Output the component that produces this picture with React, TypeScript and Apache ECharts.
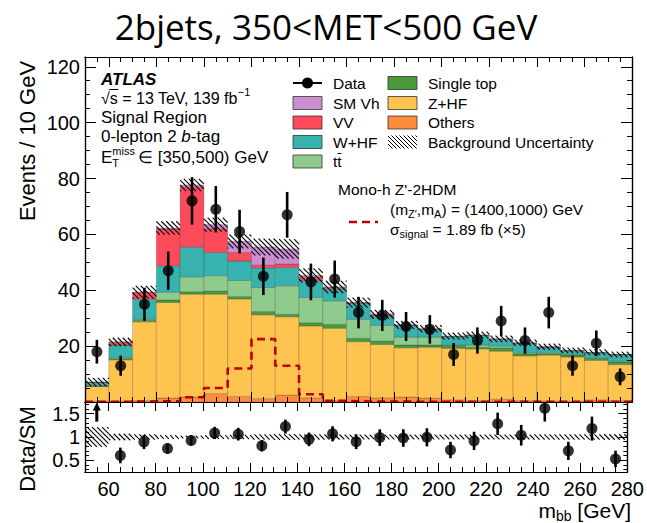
import React, { useEffect, useRef } from "react";
import * as echarts from "echarts";

const FONT = '"Liberation Sans", Arial, Helvetica, sans-serif';
const TITLE_FONT = '"Open Sans", "Noto Sans", sans-serif';

// m_bb bin edges [GeV]
const binEdges = [50, 60, 70, 80, 90, 100, 110, 120, 130, 140, 150, 160, 170, 180, 190, 200, 210, 220, 230, 240, 250, 260, 270, 280];

// Background yields per bin (events / 10 GeV), bottom of stack first
const othersYield = [0.3, 0.3, 0.5, 1.4, 1.8, 3.0, 2.0, 1.2, 2.5, 1.5, 0.6, 2.0, 1.5, 1.8, 1.4, 0.8, 0.5, 1.0, 0.5, 0.4, 0.3, 0.8, 0.5];
const zhfYield = [5.3, 14.8, 28.2, 34.2, 36.8, 35.6, 34.9, 30.0, 28.0, 25.7, 25.8, 19.6, 19.1, 17.6, 18.2, 18.4, 18.5, 17.2, 16.0, 16.4, 15.8, 14.1, 12.9];
const singleTopYield = [0.1, 0.4, 0.6, 0.9, 0.9, 1.1, 0.9, 1.2, 0.9, 1.2, 1.4, 1.2, 1.2, 1.0, 0.8, 1.0, 0.6, 1.2, 0.7, 0.5, 0.7, 0.7, 0.9];
const ttbarYield = [0.1, 0.3, 0.4, 2.8, 5.3, 5.5, 5.7, 8.6, 10.2, 9.0, 8.4, 6.8, 5.6, 2.8, 2.8, 0.2, 0.8, 0.6, 0.4, 0.3, 0.2, 0.2, 0.3];
const whfYield = [1.2, 4.6, 7.1, 9.5, 10.6, 8.3, 7.0, 7.0, 6.6, 6.1, 4.3, 5.7, 3.4, 4.2, 2.8, 3.0, 3.4, 2.4, 3.4, 2.0, 1.3, 1.8, 2.3];
const vvYield = [0.05, 1.0, 2.4, 13.1, 21.5, 8.5, 3.0, 1.0, 1.2, 1.2, 0.5, 0.2, 0.5, 0.1, 0.1, 0.1, 0.1, 0.1, 0.1, 0.1, 0.1, 0.1, 0.1];
const smVhYield = [0.05, 0.1, 0.1, 0.4, 0.8, 1.5, 4.0, 6.5, 5.4, 0.6, 0.2, 0.1, 0.1, 0.1, 0.1, 0.1, 0.1, 0.1, 0.1, 0.1, 0.1, 0.1, 0.0];

const dataCounts = [18, 13, 35, 47, 72, 69, 61, 45, 67, 43, 44, 32, 31, 27, 26, 17, 22, 29, 22, 32, 13, 21, 9];
const bkgUncertainty = [1.5, 1.5, 2.3, 2.4, 2.2, 2.5, 2.5, 3.0, 3.5, 2.5, 2.2, 1.8, 1.6, 1.4, 1.3, 1.2, 1.2, 1.2, 1.1, 1.1, 1.0, 1.0, 1.0];
const signalX5 = [0.1, 0.1, 0.2, 0.3, 1.7, 5.0, 12.0, 22.5, 13.0, 2.8, 0.4, 0.2, 0.2, 0.1, 0.1, 0.1, 0.1, 0.1, 0.1, 0.1, 0.1, 0.1, 0.1];

// Tick labels
const xTickLabels = [60, 80, 100, 120, 140, 160, 180, 200, 220, 240, 260, 280];
const yMainLabels = [20, 40, 60, 80, 100, 120];
const yMainMajor = [0, 20, 40, 60, 80, 100, 120];
const yRatioLabels = [0.5, 1, 1.5];

const COLORS = {
  others: "#fd8d3c",
  zhf: "#fec44f",
  singleTop: "#4a9a3b",
  ttbar: "#8fcb8d",
  whf: "#37b2ae",
  vv: "#fd4b5c",
  smVh: "#cc8ed0",
  signal: "#c00000",
};

const components = [
  { name: "Others", values: othersYield, color: COLORS.others },
  { name: "Z+HF", values: zhfYield, color: COLORS.zhf },
  { name: "Single top", values: singleTopYield, color: COLORS.singleTop },
  { name: "ttbar", values: ttbarYield, color: COLORS.ttbar },
  { name: "W+HF", values: whfYield, color: COLORS.whf },
  { name: "VV", values: vvYield, color: COLORS.vv },
  { name: "SM Vh", values: smVhYield, color: COLORS.smVh },
];

let measureCtx: CanvasRenderingContext2D | null = null;
function textWidth(t: string, size: number, style = "normal", weight = "normal", family = FONT) {
  if (!measureCtx) measureCtx = document.createElement("canvas").getContext("2d");
  measureCtx!.font = `${style} ${weight} ${size}px ${family}`;
  return measureCtx!.measureText(t).width;
}

type Part = { t: string; s: number; dy?: number; italic?: boolean; bold?: boolean; adv?: boolean };
function textRun(x: number, y: number, parts: Part[], color = "#000") {
  const els: any[] = [];
  let cx = x;
  for (const p of parts) {
    const st = p.italic ? "italic" : "normal";
    const wt = p.bold ? "bold" : "normal";
    els.push({
      type: "text",
      x: cx,
      y: y + (p.dy || 0),
      z: 100,
      style: {
        text: p.t,
        fontSize: p.s,
        fontFamily: FONT,
        fontStyle: st,
        fontWeight: wt,
        fill: color,
        align: "left",
        verticalAlign: "middle",
        textAlign: "left",
        textVerticalAlign: "middle",
      },
    });
    if (p.adv !== false) cx += textWidth(p.t, p.s, st, wt);
  }
  return { els, width: cx - x };
}
function runWidth(parts: Part[]) {
  let w = 0;
  for (const p of parts) if (p.adv !== false) w += textWidth(p.t, p.s, p.italic ? "italic" : "normal", p.bold ? "bold" : "normal");
  return w;
}

// diagonal "\\\\" hatching inside a pixel rectangle
function hatchLines(xa: number, ya: number, xb: number, yb: number, d: number, style: any) {
  const x0 = Math.min(xa, xb), x1 = Math.max(xa, xb);
  const y0 = Math.min(ya, yb), y1 = Math.max(ya, yb);
  const out: any[] = [];
  const cmin = y0 - x1, cmax = y1 - x0;
  for (let k = Math.ceil(cmin / d); k * d <= cmax; k++) {
    const c = k * d;
    const s = Math.max(x0, y0 - c), e = Math.min(x1, y1 - c);
    if (e > s + 0.3) out.push({ type: "line", shape: { x1: s, y1: s + c, x2: e, y2: e + c }, style });
  }
  return out;
}

function buildOption() {
  const nBins = binEdges.length - 1;
  const idx = Array.from({ length: nBins }, (_, i) => i);
  const lo = idx.map((i) => binEdges[i]);
  const hi = idx.map((i) => binEdges[i + 1]);
  const centers = idx.map((i) => (lo[i] + hi[i]) / 2);
  const totals = idx.map((i) => components.reduce((s, c) => s + c.values[i], 0));
  const binItems = idx.map((i) => [lo[i], hi[i], i]);
  const ratio = idx.map((i) => dataCounts[i] / totals[i]);
  const ratioErr = idx.map((i) => Math.sqrt(dataCounts[i]) / totals[i]);
  const RMIN = 0.25, RMAX = 1.75;

  const xMinor: number[] = [];
  for (let v = binEdges[0]; v <= binEdges[nBins]; v += 5) xMinor.push(v);
  const yMinor: number[] = [];
  for (let v = 0; v <= 120; v += 5) yMinor.push(v);
  const rMinor: number[] = [];
  for (let v = 3; v <= 17; v++) rMinor.push(v / 10);

  const axisLineStyle = { show: true, onZero: false, lineStyle: { color: "#000", width: 1.2 } };
  const labelStyle = { fontSize: 20, fontFamily: FONT, color: "#000" };
  const mkX = (grid: number, pos: string, ticks: number[], len: number, labels?: number[]) => ({
    type: "value", gridIndex: grid, position: pos, min: 50, max: 280, z: 10,
    splitLine: { show: false },
    axisLine: axisLineStyle,
    axisTick: { show: true, inside: true, length: len, customValues: ticks, lineStyle: { color: "#000", width: 1 } },
    axisLabel: labels ? { show: true, customValues: labels, margin: 7, ...labelStyle } : { show: false },
  });
  const mkY = (grid: number, pos: string, min: number, max: number, ticks: number[], len: number, labels?: number[]) => ({
    type: "value", gridIndex: grid, position: pos, min, max, z: 10,
    splitLine: { show: false },
    axisLine: axisLineStyle,
    axisTick: { show: true, inside: true, length: len, customValues: ticks, lineStyle: { color: "#000", width: 1 } },
    axisLabel: labels ? { show: true, customValues: labels, margin: 5, ...labelStyle } : { show: false },
  });

  const xAxis = [
    mkX(0, "bottom", xTickLabels, 10),
    mkX(0, "bottom", xMinor, 5),
    mkX(0, "top", xTickLabels, 10),
    mkX(0, "top", xMinor, 5),
    mkX(1, "bottom", xTickLabels, 9, xTickLabels),
    mkX(1, "bottom", xMinor, 5),
    mkX(1, "top", xTickLabels, 9),
    mkX(1, "top", xMinor, 5),
  ];
  const yAxis = [
    mkY(0, "left", 0, 123.5, yMainMajor, 11, yMainLabels),
    mkY(0, "left", 0, 123.5, yMinor, 5),
    mkY(0, "right", 0, 123.5, yMainMajor, 11),
    mkY(0, "right", 0, 123.5, yMinor, 5),
    mkY(1, "left", RMIN, RMAX, yRatioLabels, 9, yRatioLabels),
    mkY(1, "left", RMIN, RMAX, rMinor, 4),
    mkY(1, "right", RMIN, RMAX, yRatioLabels, 9),
    mkY(1, "right", RMIN, RMAX, rMinor, 4),
  ];

  const hatchStyle = { stroke: "#000", lineWidth: 1.1 };

  const stackSeries = {
    type: "custom", name: "stack", xAxisIndex: 0, yAxisIndex: 0, clip: true,
    data: binItems, encode: { x: [0, 1] },
    renderItem: (_p: any, api: any) => {
      const i = api.value(2);
      let base = 0;
      const children: any[] = [];
      for (const c of components) {
        const top = base + c.values[i];
        const a = api.coord([api.value(0), top]);
        const b = api.coord([api.value(1), base]);
        children.push({
          type: "rect",
          shape: { x: a[0], y: a[1], width: b[0] - a[0], height: b[1] - a[1] },
          style: { fill: c.color, stroke: "rgba(0,0,0,0.3)", lineWidth: 0.6 },
        });
        base = top;
      }
      return { type: "group", children };
    },
  };

  const signalPoints = idx.map((i) => [lo[i], signalX5[i]]);
  signalPoints.push([hi[nBins - 1], signalX5[nBins - 1]]);
  const signalSeries = {
    type: "line", name: "signal", xAxisIndex: 0, yAxisIndex: 0, step: "end",
    data: signalPoints, symbol: "none", clip: true,
    lineStyle: { color: COLORS.signal, width: 2.6, type: [8, 5] },
  };

  const bandSeries = {
    type: "custom", name: "band", xAxisIndex: 0, yAxisIndex: 0, clip: true,
    data: binItems, encode: { x: [0, 1] },
    renderItem: (_p: any, api: any) => {
      const i = api.value(2);
      const a = api.coord([api.value(0), totals[i] + bkgUncertainty[i]]);
      const b = api.coord([api.value(1), totals[i] - bkgUncertainty[i]]);
      return { type: "group", children: hatchLines(a[0], a[1], b[0], b[1], 5, hatchStyle) };
    },
  };

  const dataErrSeries = {
    type: "custom", name: "dataErr", xAxisIndex: 0, yAxisIndex: 0, clip: true,
    data: idx.map((i) => [centers[i], dataCounts[i]]), encode: { x: 0, y: 1 },
    renderItem: (_p: any, api: any) => {
      const x = api.value(0), n = api.value(1), e = Math.sqrt(n);
      const a = api.coord([x, n + e]);
      const b = api.coord([x, n - e]);
      return { type: "line", shape: { x1: a[0], y1: a[1], x2: b[0], y2: b[1] }, style: { stroke: "#000", lineWidth: 2.6 } };
    },
  };
  const dataSeries = {
    type: "scatter", name: "Data", xAxisIndex: 0, yAxisIndex: 0,
    data: idx.map((i) => [centers[i], dataCounts[i]]),
    symbol: "circle", symbolSize: 11, itemStyle: { color: "#000" },
  };

  const ratioBand = {
    type: "custom", name: "ratioBand", xAxisIndex: 4, yAxisIndex: 4, clip: true,
    data: binItems, encode: { x: [0, 1] },
    renderItem: (_p: any, api: any) => {
      const i = api.value(2);
      const u = bkgUncertainty[i] / totals[i];
      const a = api.coord([api.value(0), 1 + u]);
      const b = api.coord([api.value(1), 1 - u]);
      return { type: "group", children: hatchLines(a[0], a[1], b[0], b[1], 5, hatchStyle) };
    },
  };
  const inRange = idx.filter((i) => ratio[i] <= RMAX && ratio[i] >= RMIN);
  const outHigh = idx.filter((i) => ratio[i] > RMAX);
  const ratioErrSeries = {
    type: "custom", name: "ratioErr", xAxisIndex: 4, yAxisIndex: 4, clip: true,
    data: inRange.map((i) => [centers[i], ratio[i], ratioErr[i]]), encode: { x: 0, y: 1 },
    renderItem: (_p: any, api: any) => {
      const x = api.value(0), r = api.value(1), e = api.value(2);
      const a = api.coord([x, r + e]);
      const b = api.coord([x, r - e]);
      return { type: "line", shape: { x1: a[0], y1: a[1], x2: b[0], y2: b[1] }, style: { stroke: "#000", lineWidth: 2.6 } };
    },
  };
  const ratioSeries = {
    type: "scatter", name: "ratio", xAxisIndex: 4, yAxisIndex: 4,
    data: inRange.map((i) => [centers[i], ratio[i]]),
    symbol: "circle", symbolSize: 11, itemStyle: { color: "#000" },
  };
  const arrowSeries = {
    type: "custom", name: "arrow", xAxisIndex: 4, yAxisIndex: 4, clip: false,
    data: outHigh.map((i) => [centers[i], ratio[i]]), encode: { x: 0 },
    renderItem: (_p: any, api: any) => {
      const x = api.value(0);
      const a = api.coord([x, 1.33]);
      const b = api.coord([x, 1.72]);
      return {
        type: "group",
        children: [
          { type: "line", shape: { x1: a[0], y1: a[1], x2: b[0], y2: b[1] + 5 }, style: { stroke: "#000", lineWidth: 3 } },
          { type: "polygon", shape: { points: [[b[0] - 4, b[1] + 7], [b[0] + 4, b[1] + 7], [b[0], b[1] - 1]] }, style: { fill: "#000" } },
        ],
      };
    },
  };

  // ---------- graphic texts / legend ----------
  const g: any[] = [];
  g.push({
    type: "text", x: 326, y: 26, z: 100,
    style: { text: "2bjets, 350<MET<500 GeV", fontSize: 35, fontFamily: TITLE_FONT, fill: "#000", align: "center", verticalAlign: "middle", textAlign: "center", textVerticalAlign: "middle" },
  });
  // axis titles
  g.push({
    type: "text", x: 27, y: 141, rotation: Math.PI / 2, z: 100,
    style: { text: "Events / 10 GeV", fontSize: 22, fontFamily: FONT, fill: "#000", align: "center", verticalAlign: "middle", textAlign: "center", textVerticalAlign: "middle" },
  });
  g.push({
    type: "text", x: 27, y: 449, rotation: Math.PI / 2, z: 100,
    style: { text: "Data/SM", fontSize: 22, fontFamily: FONT, fill: "#000", align: "center", verticalAlign: "middle", textAlign: "center", textVerticalAlign: "middle" },
  });
  const xTitle: Part[] = [{ t: "m", s: 21 }, { t: "bb", s: 14, dy: 6 }, { t: " [GeV]", s: 21 }];
  g.push(...textRun(631 - runWidth(xTitle), 510, xTitle).els);

  // ATLAS block
  g.push(...textRun(101, 79, [{ t: "ATLAS", s: 17, bold: true, italic: true }]).els);
  const sq = textRun(101, 98, [{ t: "\u221As = 13 TeV, 139 fb", s: 16 }, { t: "\u22121", s: 11, dy: -6 }]);
  g.push(...sq.els);
  const wRoot = textWidth("\u221A", 16), wS = textWidth("s", 16);
  g.push({ type: "line", z: 100, shape: { x1: 101 + wRoot - 0.5, y1: 89.5, x2: 101 + wRoot + wS + 0.5, y2: 89.5 }, style: { stroke: "#000", lineWidth: 1 } });
  g.push(...textRun(101, 117, [{ t: "Signal Region", s: 17 }]).els);
  g.push(...textRun(101, 136, [{ t: "0-lepton 2 ", s: 17 }, { t: "b", s: 17, italic: true }, { t: "-tag", s: 17 }]).els);
  const wMiss = textWidth("miss", 11);
  g.push(...textRun(101, 157, [
    { t: "E", s: 17 },
    { t: "miss", s: 11, dy: -6.5, adv: false },
    { t: "T", s: 11, dy: 6, adv: false },
  ]).els);
  g.push(...textRun(101 + textWidth("E", 17) + wMiss + 3, 157, [{ t: "\u2208 [350,500) GeV", s: 17 }]).els);

  // legend
  const rows = [83, 103, 122.5, 142, 161.5];
  const c1 = 293, c2 = 388, bw = 29, bh = 13, t1 = 333, t2 = 428;
  const LFS = 15.5;
  // Data
  g.push({ type: "line", z: 100, shape: { x1: c1, y1: rows[0], x2: c1 + bw, y2: rows[0] }, style: { stroke: "#000", lineWidth: 2 } });
  g.push({ type: "circle", z: 100, shape: { cx: c1 + bw / 2, cy: rows[0], r: 5.5 }, style: { fill: "#000" } });
  g.push(...textRun(t1, rows[0], [{ t: "Data", s: LFS }]).els);
  const box = (x: number, y: number, color: string) => ({
    type: "rect", z: 100, shape: { x, y: y - bh / 2, width: bw, height: bh }, style: { fill: color, stroke: "#333", lineWidth: 0.8 },
  });
  const col1 = [
    { label: "SM Vh", color: COLORS.smVh },
    { label: "VV", color: COLORS.vv },
    { label: "W+HF", color: COLORS.whf },
    { label: "tt", color: COLORS.ttbar },
  ];
  col1.forEach((it, k) => {
    g.push(box(c1, rows[k + 1], it.color));
    g.push(...textRun(t1, rows[k + 1], [{ t: it.label, s: LFS }]).els);
  });
  // bar over second t of tt
  const wt1 = textWidth("t", LFS), wt2 = textWidth("tt", LFS);
  g.push({ type: "line", z: 100, shape: { x1: t1 + wt1 + 0.3, y1: rows[4] - 8, x2: t1 + wt2 - 0.3, y2: rows[4] - 8 }, style: { stroke: "#000", lineWidth: 1 } });
  const col2 = [
    { label: "Single top", color: COLORS.singleTop },
    { label: "Z+HF", color: COLORS.zhf },
    { label: "Others", color: COLORS.others },
  ];
  col2.forEach((it, k) => {
    g.push(box(c2, rows[k], it.color));
    g.push(...textRun(t2, rows[k], [{ t: it.label, s: LFS }]).els);
  });
  hatchLines(c2, rows[3] - bh / 2, c2 + bw, rows[3] + bh / 2, 4, { stroke: "#000", lineWidth: 1 }).forEach((l) => g.push({ ...l, z: 100 }));
  g.push(...textRun(t2, rows[3], [{ t: "Background Uncertainty", s: LFS }]).els);

  // signal legend
  g.push(...textRun(338, 189, [{ t: "Mono-h Z'-2HDM", s: LFS }]).els);
  g.push(...textRun(390, 209, [
    { t: "(m", s: LFS }, { t: "Z\u2032", s: 11, dy: 5 }, { t: ",m", s: LFS }, { t: "A", s: 11, dy: 5 }, { t: ") = (1400,1000) GeV", s: LFS },
  ]).els);
  g.push({ type: "line", z: 100, shape: { x1: 349, y1: 222, x2: 378, y2: 222 }, style: { stroke: COLORS.signal, lineWidth: 2.6, lineDash: [8, 5] } });
  g.push(...textRun(390, 229, [
    { t: "\u03C3", s: LFS }, { t: "signal", s: 11, dy: 5 }, { t: " = 1.89 fb (\u00D75)", s: LFS },
  ]).els);

  return {
    animation: false,
    backgroundColor: "#fff",
    textStyle: { fontFamily: FONT },
    grid: [
      { left: 85, top: 57, width: 547, height: 345 },
      { left: 85, top: 402, width: 547, height: 70 },
    ],
    xAxis,
    yAxis,
    series: [stackSeries, signalSeries, bandSeries, dataErrSeries, dataSeries, ratioBand, ratioErrSeries, ratioSeries, arrowSeries],
    graphic: { elements: g },
  };
}

export default function App() {
  const ref = useRef<HTMLDivElement>(null);
  useEffect(() => {
    if (!ref.current) return;
    const chart = echarts.init(ref.current, null, { renderer: "svg" });
    chart.setOption(buildOption() as any);
    return () => chart.dispose();
  }, []);
  return <div ref={ref} style={{ position: "absolute", left: 0, top: 0, width: 647, height: 523, background: "#fff" }} />;
}
